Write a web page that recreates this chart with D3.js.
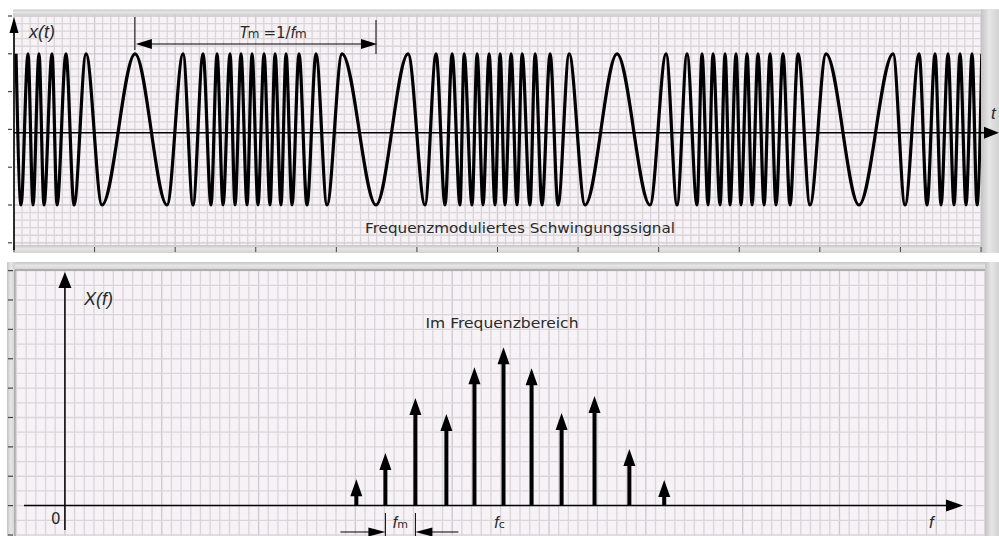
<!DOCTYPE html>
<html><head><meta charset="utf-8">
<script src="https://cdn.jsdelivr.net/npm/d3@7"></script>
<style>
html,body{margin:0;padding:0;background:#fff;}
svg{display:block;}
text{font-family:"DejaVu Sans",sans-serif;fill:#2a2a2a;}
.math{font-family:"Liberation Sans",sans-serif;font-style:italic;}
</style></head><body>
<svg id="chart" width="999" height="536"></svg>
<script>
// ---- time domain: instants (grid units) of the maxima and minima of x(t)
const peakTimes = [0.25, 1.74, 3.10, 4.72, 6.45, 8.94, 15.02, 20.98, 23.46, 25.20, 26.81, 28.17,
  29.54, 31.03, 32.40, 33.76, 35.37, 37.48, 40.71, 48.90, 52.38, 54.37, 55.86, 57.47, 58.96,
  60.33, 61.69, 63.06, 64.67, 66.53, 68.89, 74.83, 80.92, 83.52, 85.38, 86.75, 88.24, 89.60,
  90.97, 92.33, 93.82, 95.43, 97.30, 100.77, 109.09, 112.32, 114.30, 115.91, 117.40, 118.89, 120.1];
const troughTimes = [0.87, 2.36, 3.72, 5.34, 7.45, 10.92, 18.99, 22.21, 24.45, 25.94, 27.43,
  28.92, 30.28, 31.77, 33.13, 34.50, 36.36, 38.84, 44.92, 51.00, 53.49, 55.35, 56.84, 58.20,
  59.69, 60.93, 62.42, 64.03, 65.52, 67.51, 70.86, 78.93, 82.28, 84.76, 86.13, 87.62, 88.86,
  90.22, 91.59, 93.08, 94.56, 96.30, 98.78, 104.86, 110.57, 113.30, 115.04, 116.65, 118.14, 119.51];
const signalAmplitude = 1;
const modulationPeriod = [15.0, 44.8];   // bracket T_m = 1/f_m

// ---- frequency domain: spectral lines
const lineFreqs = [30.1, 33.1, 36.2, 39.4, 42.3, 45.3, 48.2, 51.3, 54.7, 58.3, 61.9];
const lineAmps  = [0.90, 1.79, 3.66, 3.12, 4.71, 5.39, 4.68, 3.15, 3.73, 1.93, 0.87];
const carrierIndex = 5;        // line at f_c
const fmPair = [1, 2];         // neighbouring lines used for the f_m spacing marker

const timeTitle = "Frequenzmoduliertes Schwingungssignal";
const freqTitle = "Im Frequenzbereich";
const timeTicks = d3.range(0, 121, 10);
const ampTicks  = d3.range(-1.5, 1.51, 0.5);
const specTicks = d3.range(-1, 8.01, 1);

const svg = d3.select("#chart");
const defs = svg.append("defs");
const GRID = "#d9d5d9", GRID_MAJOR = "#cdc8cd", PAPER = "#f6f2f6";

function barGradient(id, horizontal) {
  const g = defs.append("linearGradient").attr("id", id)
    .attr("x1", 0).attr("y1", 0).attr("x2", horizontal ? 1 : 0).attr("y2", horizontal ? 0 : 1);
  g.append("stop").attr("offset", "0%").attr("stop-color", "#c4c4c4");
  g.append("stop").attr("offset", "45%").attr("stop-color", "#e6e6e6");
  g.append("stop").attr("offset", "100%").attr("stop-color", "#d2d2d2");
}
barGradient("gv", false);
barGradient("gh", true);

function arrowHead(g, tipX, tipY, dir, len, half) {
  let pts;
  if (dir === "up")    pts = [[tipX, tipY], [tipX - half, tipY + len], [tipX + half, tipY + len]];
  if (dir === "down")  pts = [[tipX, tipY], [tipX - half, tipY - len], [tipX + half, tipY - len]];
  if (dir === "right") pts = [[tipX, tipY], [tipX - len, tipY - half], [tipX - len, tipY + half]];
  if (dir === "left")  pts = [[tipX, tipY], [tipX + len, tipY - half], [tipX + len, tipY + half]];
  g.append("path").attr("d", "M" + pts.map(p => p.join(",")).join("L") + "Z").attr("fill", "#000");
}

// =============== upper panel: x(t) =================
const T = {x0: 14, x1: 981, y0: 15, y1: 245};
const xT = d3.scaleLinear([0, 120], [T.x0, T.x1]);
const yT = d3.scaleLinear([-1.5, 1.5], [242.8, 16]);

const timePanel = svg.append("g");
timePanel.append("rect").attr("x", T.x0).attr("y", T.y0).attr("width", T.x1 - T.x0).attr("height", T.y1 - T.y0)
  .attr("fill", PAPER);
// grid
timePanel.append("g").selectAll("line").data(d3.range(0, 121)).join("line")
  .attr("x1", d => xT(d)).attr("x2", d => xT(d)).attr("y1", T.y0).attr("y2", T.y1)
  .attr("stroke", d => d % 10 === 0 ? GRID_MAJOR : GRID).attr("stroke-width", 1.3);
timePanel.append("g").selectAll("line").data(d3.range(-15, 16)).join("line")
  .attr("x1", T.x0).attr("x2", T.x1).attr("y1", d => yT(d / 10)).attr("y2", d => yT(d / 10))
  .attr("stroke", d => d % 5 === 0 ? GRID_MAJOR : GRID).attr("stroke-width", 1.3);
// frame bars
timePanel.append("rect").attr("x", T.x0 - 1).attr("y", 9.5).attr("width", 999 - T.x0 + 1).attr("height", 5.5).attr("fill", "url(#gv)");
timePanel.append("rect").attr("x", T.x1).attr("y", 9.5).attr("width", 999 - T.x1).attr("height", 253 - 9.5).attr("fill", "url(#gh)");
timePanel.append("rect").attr("x", T.x0 - 1).attr("y", T.y1).attr("width", T.x1 - T.x0 + 1).attr("height", 8).attr("fill", "url(#gv)");
timePanel.append("g").selectAll("line").data(timeTicks).join("line")
  .attr("x1", d => xT(d)).attr("x2", d => xT(d)).attr("y1", T.y1 + 2).attr("y2", T.y1 + 7)
  .attr("stroke", "#444").attr("stroke-width", 1);
timePanel.append("g").selectAll("line").data(ampTicks).join("line")
  .attr("x1", 8).attr("x2", 12).attr("y1", d => yT(d)).attr("y2", d => yT(d))
  .attr("stroke", "#444").attr("stroke-width", 1.2);

// signal through its extrema
const extrema = peakTimes.map(t => [t, signalAmplitude])
  .concat(troughTimes.map(t => [t, -signalAmplitude]))
  .sort((a, b) => a[0] - b[0]);
defs.append("clipPath").attr("id", "clipT").append("rect")
  .attr("x", T.x0).attr("y", T.y0).attr("width", T.x1 - T.x0).attr("height", T.y1 - T.y0);
timePanel.append("path").datum(extrema).attr("clip-path", "url(#clipT)")
  .attr("d", d3.line().x(d => xT(d[0])).y(d => yT(d[1])).curve(d3.curveMonotoneX))
  .attr("fill", "none").attr("stroke", "#000").attr("stroke-width", 3.2).attr("stroke-linejoin", "round");

// axes
timePanel.append("line").attr("x1", T.x0).attr("x2", T.x0).attr("y1", 30).attr("y2", T.y1 + 5)
  .attr("stroke", "#000").attr("stroke-width", 1.6);
arrowHead(timePanel, T.x0, 17, "up", 16, 4.5);
const axisY = yT(-0.045);
timePanel.append("line").attr("x1", T.x0).attr("x2", 986).attr("y1", axisY).attr("y2", axisY)
  .attr("stroke", "#000").attr("stroke-width", 1.5);
arrowHead(timePanel, 999, axisY, "right", 15, 6);

// T_m bracket
const tmA = xT(modulationPeriod[0]), tmB = xT(modulationPeriod[1]);
timePanel.append("line").attr("x1", tmA).attr("x2", tmA).attr("y1", 17).attr("y2", 50).attr("stroke", "#000").attr("stroke-width", 1);
timePanel.append("line").attr("x1", tmB + 1).attr("x2", tmB + 1).attr("y1", 20).attr("y2", 54).attr("stroke", "#000").attr("stroke-width", 1);
timePanel.append("line").attr("x1", tmA + 10).attr("x2", tmB - 8).attr("y1", 44).attr("y2", 44).attr("stroke", "#000").attr("stroke-width", 1.2);
arrowHead(timePanel, tmA + 1, 44, "left", 16, 5);
arrowHead(timePanel, tmB + 2, 44, "right", 16, 5);
const tmLabel = timePanel.append("text").attr("x", 239).attr("y", 38).attr("font-size", 16);
tmLabel.append("tspan").attr("class", "math").text("T");
tmLabel.append("tspan").attr("font-size", 12).attr("dx", -1).text("m");
tmLabel.append("tspan").attr("dx", 4).attr("font-size", 15).text("=1/");
tmLabel.append("tspan").attr("class", "math").text("f");
tmLabel.append("tspan").attr("font-size", 12).text("m");

timePanel.append("text").attr("class", "math").attr("x", 29).attr("y", 38).attr("font-size", 18).text("x(t)");
timePanel.append("text").attr("class", "math").attr("x", 991).attr("y", 119).attr("font-size", 17).text("t");
timePanel.append("text").attr("x", 365).attr("y", 233).attr("font-size", 14)
  .attr("textLength", 310).attr("lengthAdjust", "spacingAndGlyphs").text(timeTitle);

// =============== lower panel: X(f) =================
const F = {x0: 15, x1: 985, y0: 270, y1: 536};
const xF = d3.scaleLinear([-5, 95], [16.5, 984.7]);
const yF = d3.scaleLinear([-1, 8], [535, 270.6]);

const freqPanel = svg.append("g");
freqPanel.append("rect").attr("x", F.x0).attr("y", F.y0).attr("width", F.x1 - F.x0).attr("height", F.y1 - F.y0)
  .attr("fill", PAPER);
freqPanel.append("g").selectAll("line").data(d3.range(-5, 96)).join("line")
  .attr("x1", d => xF(d)).attr("x2", d => xF(d)).attr("y1", F.y0).attr("y2", F.y1)
  .attr("stroke", d => d % 10 === 0 ? GRID_MAJOR : GRID).attr("stroke-width", 1.3);
freqPanel.append("g").selectAll("line").data(d3.range(-2, 17)).join("line")
  .attr("x1", F.x0).attr("x2", F.x1).attr("y1", d => yF(d / 2)).attr("y2", d => yF(d / 2))
  .attr("stroke", GRID).attr("stroke-width", 1.3);
freqPanel.append("rect").attr("x", 7).attr("y", 262).attr("width", 999 - 7).attr("height", 8).attr("fill", "url(#gv)");
freqPanel.append("rect").attr("x", 7).attr("y", 262).attr("width", 8).attr("height", 536 - 262).attr("fill", "url(#gh)");
freqPanel.append("rect").attr("x", F.x1).attr("y", 262).attr("width", 999 - F.x1).attr("height", 536 - 262).attr("fill", "url(#gh)");
freqPanel.append("line").attr("x1", 15).attr("x2", 15).attr("y1", 270).attr("y2", 536).attr("stroke", "#888");
freqPanel.append("line").attr("x1", 15).attr("x2", F.x1).attr("y1", 270).attr("y2", 270).attr("stroke", "#888");
freqPanel.append("g").selectAll("line").data(specTicks).join("line")
  .attr("x1", 8).attr("x2", 13).attr("y1", d => yF(d)).attr("y2", d => yF(d))
  .attr("stroke", "#444").attr("stroke-width", 1.2);

// axes
const x0F = xF(0), y0F = yF(0);
freqPanel.append("line").attr("x1", x0F).attr("x2", x0F).attr("y1", 285).attr("y2", 530).attr("stroke", "#000").attr("stroke-width", 1.5);
arrowHead(freqPanel, x0F, 272, "up", 16, 6.5);
freqPanel.append("line").attr("x1", 24).attr("x2", 950).attr("y1", y0F).attr("y2", y0F).attr("stroke", "#000").attr("stroke-width", 1.5);
arrowHead(freqPanel, 963, y0F, "right", 17, 6);

// spectral lines
const lines = freqPanel.append("g");
lineFreqs.forEach((f, i) => {
  const x = xF(f), yTip = yF(lineAmps[i]);
  lines.append("line").attr("x1", x).attr("x2", x).attr("y1", y0F).attr("y2", yTip + 12)
    .attr("stroke", "#000").attr("stroke-width", 4);
  arrowHead(lines, x, yTip, "up", 17, 6);
});

// f_m spacing marker
const fa = xF(lineFreqs[fmPair[0]]), fb = xF(lineFreqs[fmPair[1]]);
freqPanel.append("line").attr("x1", fa).attr("x2", fa).attr("y1", 513).attr("y2", 536).attr("stroke", "#000");
freqPanel.append("line").attr("x1", fb).attr("x2", fb).attr("y1", 513).attr("y2", 536).attr("stroke", "#000");
freqPanel.append("line").attr("x1", fa - 45).attr("x2", fa - 10).attr("y1", 532).attr("y2", 532).attr("stroke", "#000").attr("stroke-width", 1.2);
freqPanel.append("line").attr("x1", fb + 10).attr("x2", fb + 43).attr("y1", 532).attr("y2", 532).attr("stroke", "#000").attr("stroke-width", 1.2);
arrowHead(freqPanel, fa, 532, "right", 17, 4.5);
arrowHead(freqPanel, fb, 532, "left", 17, 4.5);
const fmLabel = freqPanel.append("text").attr("x", (fa + fb) / 2).attr("y", 528).attr("text-anchor", "middle").attr("font-size", 16);
fmLabel.append("tspan").attr("class", "math").text("f");
fmLabel.append("tspan").attr("font-size", 11).text("m");
const fcLabel = freqPanel.append("text").attr("x", xF(lineFreqs[carrierIndex]) - 4).attr("y", 528).attr("text-anchor", "middle").attr("font-size", 16);
fcLabel.append("tspan").attr("class", "math").text("f");
fcLabel.append("tspan").attr("font-size", 11).text("c");

freqPanel.append("text").attr("class", "math").attr("x", 84).attr("y", 305).attr("font-size", 18).text("X(f)");
freqPanel.append("text").attr("x", 51).attr("y", 524).attr("font-size", 15).text("0");
freqPanel.append("text").attr("class", "math").attr("x", 929).attr("y", 528).attr("font-size", 17).text("f");
freqPanel.append("text").attr("x", 502).attr("y", 328).attr("text-anchor", "middle").attr("font-size", 14)
  .attr("textLength", 153).attr("lengthAdjust", "spacingAndGlyphs").text(freqTitle);
</script>
</body></html>
